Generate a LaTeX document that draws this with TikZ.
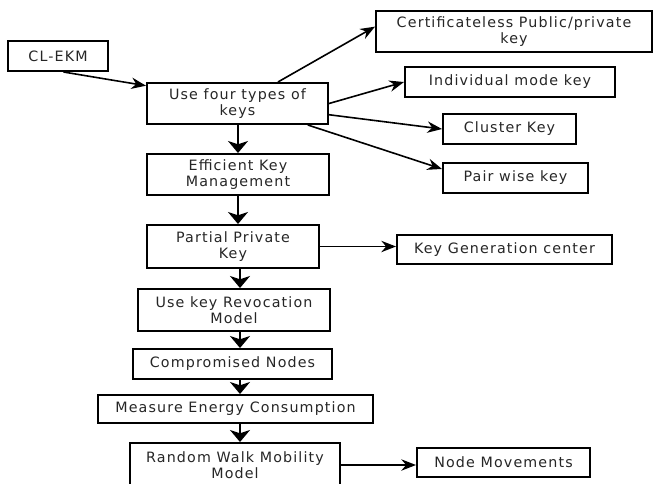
\documentclass[tikz,border=0pt]{standalone}
\usepackage{fontspec}
\setmainfont{DejaVu Sans}[LetterSpace=8]
\usetikzlibrary{arrows.meta}
\begin{document}
\begin{tikzpicture}[x=0.75pt,y=-0.75pt,
  box/.style={draw, line width=1.5pt, align=center, inner sep=0pt,
    font=\fontsize{10.7}{12}\selectfont, text=black!85},
  sz/.style 2 args={minimum width=#1*0.75pt, minimum height=#2*0.75pt},
  thinarrow/.style={line width=1.2pt, -{Stealth[length=11pt,width=8.5pt]}},
  downarrow/.style={line width=2.2pt, -{Stealth[length=9pt,width=15pt,inset=2.5pt]}}]
\useasboundingbox (0,0) rectangle (654,483);
\fill[white] (0,0) rectangle (654,483);
\clip (0,0) rectangle (654,483);

\node[box, sz={100}{30}] (clekm) at (58,56) {CL-EKM};
\node[box, sz={181}{41}] (four) at (237.5,103.5) {Use four types of\\keys};
\node[box, sz={276}{41}] (cert) at (514,31.5) {Certificateless Public/private\\key};
\node[box, sz={210}{30}] (indiv) at (510,82) {Individual mode key};
\node[box, sz={133}{30}] (cluster) at (509.5,129) {Cluster Key};
\node[box, sz={145}{30}] (pair) at (515.5,178) {Pair wise key};
\node[box, sz={182}{41}] (ekm) at (238,174.5) {Efficient Key\\Management};
\node[box, sz={172}{43}] (partial) at (233,246.5) {Partial Private\\Key};
\node[box, sz={215}{29}] (kgc) at (504.5,249.5) {Key Generation center};
\node[box, sz={192}{42}] (revoc) at (234,310) {Use key Revocation\\Model};
\node[box, sz={199}{30}] (comp) at (232.5,364) {Compromised Nodes};
\node[box, sz={275}{28}] (energy) at (235.5,409) {Measure Energy Consumption};
\node[box, sz={210}{44}] (rw) at (235,465) {Random Walk Mobility\\Model};
\node[box, sz={173}{29}] (nm) at (503.5,462.5) {Node Movements};

\coordinate (c1) at (238,0);
\coordinate (c2) at (240,0);

\draw[thinarrow] (clekm.-71.6) -- (four.169.7);
\draw[thinarrow] (four.28.7) -- (cert.178);
\draw[thinarrow] (four.east) -- (indiv.west);
\draw[thinarrow] (four.-7.2) -- (cluster.west);
\draw[thinarrow] (four.-17.4) -- (pair.173.7);

\draw[downarrow] (four.south -| c1) -- (ekm.north -| c1);
\draw[downarrow] (ekm.south -| c1) -- (partial.north -| c1);
\draw[downarrow] (partial.south -| c2) -- (revoc.north -| c2);
\draw[downarrow] (revoc.south -| c2) -- (comp.north -| c2);
\draw[downarrow] (comp.south -| c2) -- (energy.north -| c2);
\draw[downarrow] (energy.south -| c2) -- (rw.north -| c2);

\draw[thinarrow] (partial.east) -- (partial.east -| kgc.west);
\draw[thinarrow] (rw.east) -- (rw.east -| nm.west);
\end{tikzpicture}
\end{document}
